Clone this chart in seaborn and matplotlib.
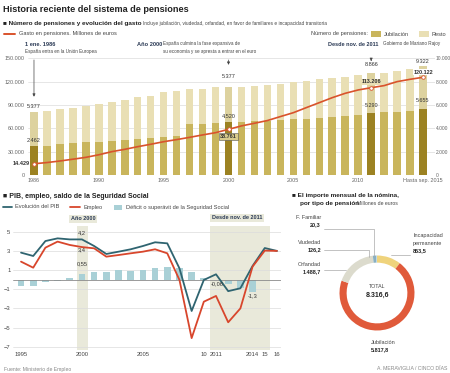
import matplotlib
matplotlib.use("Agg")
import matplotlib.pyplot as plt
import seaborn as sns
import pandas as pd
import numpy as np
from matplotlib.patches import Rectangle
from matplotlib.lines import Line2D

# ---- top chart: number of pensions (thousands) and spending (millions of euros)
# index 0 = 1 ene. 1986, then end of each year up to sep. 2015
periods = list(range(1985, 2016))
jubilacion = [2462, 2513, 2627, 2713, 2800, 2860, 2933, 3000, 3113, 3200, 3287, 3373, 4333, 4400, 4487,
              4520, 4571, 4629, 4657, 4714, 4771, 4829, 4914, 5000, 5086, 5143, 5290, 5371, 5429, 5514, 5655]
total_pens = [5377, 5487, 5627, 5773, 5913, 6113, 6260, 6400, 6660, 6773, 7087, 7200, 7333, 7400, 7513,
              7540, 7571, 7657, 7743, 7829, 7971, 8057, 8200, 8343, 8429, 8543, 8740, 8771, 8914, 9057, 9322]
gasto = [14429, 16000, 18000, 20300, 22700, 26000, 30000, 33000, 36400, 39500, 42800, 45500, 48400, 51500, 54400,
         58700, 63100, 66500, 70000, 75100, 80100, 86600, 93000, 99400, 105000, 109300, 112200, 114900, 120000,
         123000, 125600]
highlight = [0, 15, 26, 30]
top_ticks = [0, 5, 10, 15, 20, 25, 30]
top_ticklabels = ["1986", "1990", "1995", "2000", "2005", "2010", "Hasta sep. 2015"]

# ---- bottom left: PIB, empleo, saldo Seguridad Social (%)
years2 = list(range(1995, 2017))
pib = [2.82, 2.47, 4.03, 4.31, 4.2, 4.2, 3.51, 2.68, 2.92, 3.17, 3.51, 3.9, 3.79, 1.18, -3.27, -0.03, 0.56,
       -1.2, -0.9, 1.43, 3.3, 3.0]
empleo = [1.88, 1.25, 3.34, 3.97, 3.62, 3.4, 3.27, 2.4, 2.57, 2.75, 2.92, 3.17, 2.75, -0.03, -6.1, -2.3, -1.7,
          -4.45, -3.0, 1.36, 3.03, 3.0]
saldo = [-0.66, -0.7, -0.25, -0.1, 0.15, 0.55, 0.8, 0.85, 1.0, 0.95, 1.05, 1.2, 1.3, 1.25, 0.83, 0.2, -0.06,
         -0.45, -0.85, -1.3, np.nan, np.nan]
bl_ticks = [1995, 2000, 2005, 2010, 2011, 2014, 2015, 2016]
bl_ticklabels = ["1995", "2000", "2005", "10", "2011", "2014", "15", "16"]

# ---- bottom right: monthly payroll by pension type (millions of euros)
pie_names = ["Incapacidad permanente", "Jubilación", "Orfandad", "Viudedad", "F. Familiar"]
pie_values = [863.5, 5817.8, 1488.7, 126.2, 20.3]
pie_colors = ["#efd37c", "#e05a3a", "#dcdbcd", "#88afc2", "#b8d8e6"]

jub_c, jub_dark = "#c9b55c", "#9c8222"
resto_c, resto_dark = "#e9dfb4", "#ddd29f"
line_c = "#d9532c"
teal, red, ss_c = "#2f6470", "#d8462c", "#a9d0d6"
band_c = "#e9e9da"
txt, grey = "#222222", "#666666"

sns.set_style("white")
plt.rcParams["font.family"] = ["Liberation Sans", "DejaVu Sans"]

fig = plt.figure(figsize=(4.5, 3.73), dpi=100)


def fx(x):
    return x / 450


def fy(y):
    return 1 - y / 373


def ftext(x, y, s, **kw):
    kw.setdefault("va", "center")
    kw.setdefault("color", txt)
    fig.text(fx(x), fy(y), s, **kw)


def fline(xs, ys, **kw):
    fig.add_artist(Line2D([fx(v) for v in xs], [fy(v) for v in ys], transform=fig.transFigure, **kw))


def fbox(x0, y0, x1, y1, c):
    fig.add_artist(Rectangle((fx(x0), fy(y1)), fx(x1) - fx(x0), fy(y0) - fy(y1),
                             transform=fig.transFigure, color=c, lw=0))


# ---------------- headers top
ftext(3, 10, "Historia reciente del sistema de pensiones", fontsize=6.6, fontweight="bold")
ftext(3, 24, "■ Número de pensiones y evolución del gasto", fontsize=4.6, fontweight="bold")
ftext(143, 24, "Incluye jubilación, viudedad, orfandad, en favor de familiares e incapacidad transitoria",
      fontsize=3.4, color="#444")
fline([4, 15], [34, 34], color=line_c, lw=1.4)
ftext(19, 34, "Gasto en pensiones. Millones de euros", fontsize=4.1, color="#444")
ftext(368, 34, "Número de pensiones:", fontsize=4.1, color="#444", ha="right")
fbox(371, 31.5, 381, 36.5, jub_c)
ftext(384, 34, "Jubilación", fontsize=4.1, color="#444")
fbox(419, 31.5, 429, 36.5, resto_c)
ftext(432, 34, "Resto", fontsize=4.1, color="#444")

ftext(25, 44, "1 ene. 1986", fontsize=4.1, fontweight="bold", color="#2b3a55")
ftext(25, 51, "España entra en la Unión Europea", fontsize=3.3, color="#444")
ftext(137, 44, "Año 2000", fontsize=4.1, fontweight="bold", color="#2b3a55")
ftext(163, 44, "España culmina la fase expansiva de", fontsize=3.3, color="#444")
ftext(163, 51, "su economía y se apresta a entrar en el euro", fontsize=3.3, color="#444")
ftext(328, 44, "Desde nov. de 2011", fontsize=4.0, fontweight="bold", color="#2b3a55")
ftext(383, 44, "Gobierno de Mariano Rajoy", fontsize=3.3, color="#444")

# ---------------- top chart
ax = fig.add_axes([fx(27.5), fy(175), (434.7 - 27.5) / 450, (175 - 58.3) / 373])
df_top = pd.DataFrame({"pos": range(len(periods)), "total": total_pens, "jub": jubilacion,
                       "hl": [i in highlight for i in range(len(periods))]})
sns.barplot(data=df_top, x="pos", y="total", hue="hl", palette={False: resto_c, True: resto_dark},
            dodge=False, width=0.58, saturation=1, legend=False, linewidth=0, ax=ax)
sns.barplot(data=df_top, x="pos", y="jub", hue="hl", palette={False: jub_c, True: jub_dark},
            dodge=False, width=0.58, saturation=1, legend=False, linewidth=0, ax=ax)
ax.set_ylim(0, 10000)
ax.set_yticks(range(0, 10001, 2000))
ax.set_yticklabels([f"{v:,}".replace(",", ".") for v in range(0, 10001, 2000)])
ax.yaxis.grid(True, color="#dcdcdc", lw=0.5)
ax.set_axisbelow(True)
ax.set_xlabel("")
ax.set_ylabel("")

ax2 = ax.twinx()
sns.lineplot(x=df_top["pos"], y=gasto, color=line_c, lw=1.2, ax=ax2)
ax2.plot([df_top["pos"][i] for i in highlight], [gasto[i] for i in highlight], "o", ms=2.6,
         mfc="white", mec=line_c, mew=0.6)
ax.yaxis.tick_right()
ax2.yaxis.tick_left()
ax2.set_ylim(0, 150000)
ax2.set_yticks(range(0, 150001, 30000))
ax2.set_yticklabels([f"{v:,}".replace(",", ".") for v in range(0, 150001, 30000)])
ax2.set_ylabel("")
ax2.set_xlabel("")
ax.set_xlim(-0.5, 30.9)
ax.set_xticks(top_ticks)
ax.set_xticklabels(top_ticklabels)
for a in (ax, ax2):
    a.tick_params(length=0, labelsize=3.9, colors=grey, pad=2)
    for s in a.spines.values():
        s.set_visible(False)
ax.tick_params(axis="y", labelsize=3.5, pad=0.6)

arrow = dict(arrowstyle="-|>", color="#444", lw=0.5, mutation_scale=4)
for i, tip in [(0, 97000), (15, 138000), (26, 146500)]:
    ax2.annotate("", xy=(i, tip), xytext=(i, 151500), arrowprops=arrow, annotation_clip=False)

num = dict(fontsize=4.0, color="#333", ha="center", textcoords="offset points")
ax.annotate("5.377", (0, total_pens[0]), xytext=(0, 2.5), va="bottom", **num)
ax.annotate("2.462", (0, jubilacion[0]), xytext=(0, 2.5), va="bottom", **num)
ax2.annotate("14.429", (0, gasto[0]), xytext=(-3, 0), va="center", fontweight="bold",
             **{**num, "ha": "right"})
ax.annotate("5.377", (15, total_pens[15]), xytext=(0, 5.5), va="bottom", **num)
ax.annotate("4.520", (15, jubilacion[15]), xytext=(0, 2.5), va="bottom", **num)
ax2.annotate("38.761", (15, gasto[15]), xytext=(0, -3.5), va="top", fontweight="bold",
             bbox=dict(boxstyle="square,pad=0.2", fc="#d8cb8c", ec="#555", lw=0.4), **num)
ax.annotate("8.866", (26, total_pens[26]), xytext=(0, 4), va="bottom", **num)
ax2.annotate("113.206", (26, gasto[26]), xytext=(0, 2.5), va="bottom", fontweight="bold",
             bbox=dict(boxstyle="square,pad=0.1", fc=resto_c, ec="none"), **num)
ax.annotate("5.290", (26, jubilacion[26]), xytext=(0, 4), va="bottom", **num)
ax.annotate("9.322", (30, total_pens[30]), xytext=(0, 1.5), va="bottom", **num)
ax2.annotate("120.122", (30, gasto[30]), xytext=(0, 2), va="bottom", fontweight="bold",
             bbox=dict(boxstyle="square,pad=0.1", fc="white", ec="none"), **num)
ax.annotate("5.655", (30, jubilacion[30]), xytext=(0, 4), va="bottom", **num)

# ---------------- bottom left header
ftext(3, 197, "■ PIB, empleo, saldo de la Seguridad Social", fontsize=5.0, fontweight="bold")
fline([3, 12], [207, 207], color=teal, lw=1.3)
ftext(15, 207, "Evolución del PIB", fontsize=4.1, color="#444")
fline([70, 80], [207, 207], color=red, lw=1.3)
ftext(83, 207, "Empleo", fontsize=4.1, color="#444")
fbox(114, 204.5, 122, 209.5, ss_c)
ftext(126, 207, "Déficit o superávit de la Seguridad Social", fontsize=4.1, color="#444")

ax3 = fig.add_axes([fx(12.5), fy(349.6), (280.6 - 12.5) / 450, (349.6 - 226) / 373])
ax3.axvspan(1999.6, 2000.5, color=band_c, lw=0, zorder=0)
ax3.axvspan(2010.5, 2015.45, color=band_c, lw=0, zorder=0)
sns.barplot(x=years2, y=saldo, native_scale=True, color=ss_c, width=0.55, saturation=1, linewidth=0, ax=ax3)
ax3.axhline(0, color="#8a8a8a", lw=0.6)
sns.lineplot(x=years2, y=pib, color=teal, lw=1.3, ax=ax3)
sns.lineplot(x=years2, y=empleo, color=red, lw=1.3, ax=ax3)
ax3.set_xlim(1994.3, 2016.3)
ax3.set_ylim(-7.3, 5.6)
ax3.set_yticks([5, 3, 1, -1, -3, -5, -7])
ax3.set_xticks(bl_ticks)
ax3.set_xticklabels(bl_ticklabels)
ax3.yaxis.grid(True, color="#dcdcdc", lw=0.5)
ax3.set_axisbelow(True)
ax3.tick_params(length=0, labelsize=4.2, colors="#444", pad=1.5)
for s in ax3.spines.values():
    s.set_visible(False)

lab = dict(fontsize=4.1, color="#333", ha="center", textcoords="offset points")
ax3.annotate("4,2", (2000, pib[5]), xytext=(0, 3), va="bottom", **lab)
ax3.annotate("3,4", (2000, empleo[5]), xytext=(0, -0.5), va="top", **lab)
ax3.annotate("0,55", (2000, saldo[5]), xytext=(0, 6), va="bottom", **lab)
ax3.annotate("-0,06", (2011, saldo[16]), xytext=(1, -1), va="top", **lab)
ax3.annotate("-1,3", (2014, saldo[19]), xytext=(0, -0.5), va="top", **lab)
ftext(83, 219, "Año 2000", fontsize=4.0, fontweight="bold", color="#2b3a55", ha="center",
      bbox=dict(boxstyle="square,pad=0.3", fc=band_c, ec="none"))
ftext(237, 218, "Desde nov. de 2011", fontsize=4.0, fontweight="bold", color="#2b3a55", ha="center",
      bbox=dict(boxstyle="square,pad=0.3", fc=band_c, ec="none"))

# ---------------- bottom right donut
ftext(292, 195, "■ El importe mensual de la nómina,", fontsize=4.6, fontweight="bold")
ftext(300, 203, "por tipo de pensión", fontsize=4.6, fontweight="bold")
ftext(357, 203.5, "Millones de euros", fontsize=3.7, color="#444")

ax4 = fig.add_axes([fx(377 - 37.5), fy(293 + 37.5), 75 / 450, 75 / 373])
ax4.pie(pie_values, colors=pie_colors, startangle=90, counterclock=False, radius=1,
        wedgeprops=dict(width=0.19, linewidth=0))
ax4.set_xlim(-1, 1)
ax4.set_ylim(-1, 1)
ftext(377, 287, "TOTAL", fontsize=3.8, color="#444", ha="center")
ftext(377, 295, "8.316,6", fontsize=5.0, fontweight="bold", ha="center")

lc = dict(color="#aaaaaa", lw=0.5)
ftext(321, 217, "F. Familiar", fontsize=4.0, color="#444", ha="right")
ftext(321, 225, "20,3", fontsize=4.0, fontweight="bold", ha="right")
fline([324, 374, 374], [229, 229, 256], **lc)
ftext(321, 242, "Viudedad", fontsize=4.0, color="#444", ha="right")
ftext(321, 249.5, "126,2", fontsize=4.0, fontweight="bold", ha="right")
fline([324, 369, 369], [250, 250, 257], **lc)
ftext(321, 264, "Orfandad", fontsize=4.0, color="#444", ha="right")
ftext(321, 272, "1.488,7", fontsize=4.0, fontweight="bold", ha="right")
fline([324, 346], [270, 270], **lc)
ftext(413, 236, "Incapacidad", fontsize=4.0, color="#444")
ftext(413, 243.5, "permanente", fontsize=4.0, color="#444")
ftext(413, 251, "863,5", fontsize=4.0, fontweight="bold")
fline([391, 410], [255, 255], **lc)
ftext(371, 342, "Jubilación", fontsize=4.0, color="#444")
ftext(371, 349.5, "5.817,8", fontsize=4.0, fontweight="bold")

ftext(4, 369, "Fuente: Ministerio de Empleo", fontsize=3.7, color="#888")
ftext(447, 368, "A. MERAVIGLIA / CINCO DÍAS", fontsize=3.7, color="#888", ha="right")

fig.savefig("out.png", dpi=100)
